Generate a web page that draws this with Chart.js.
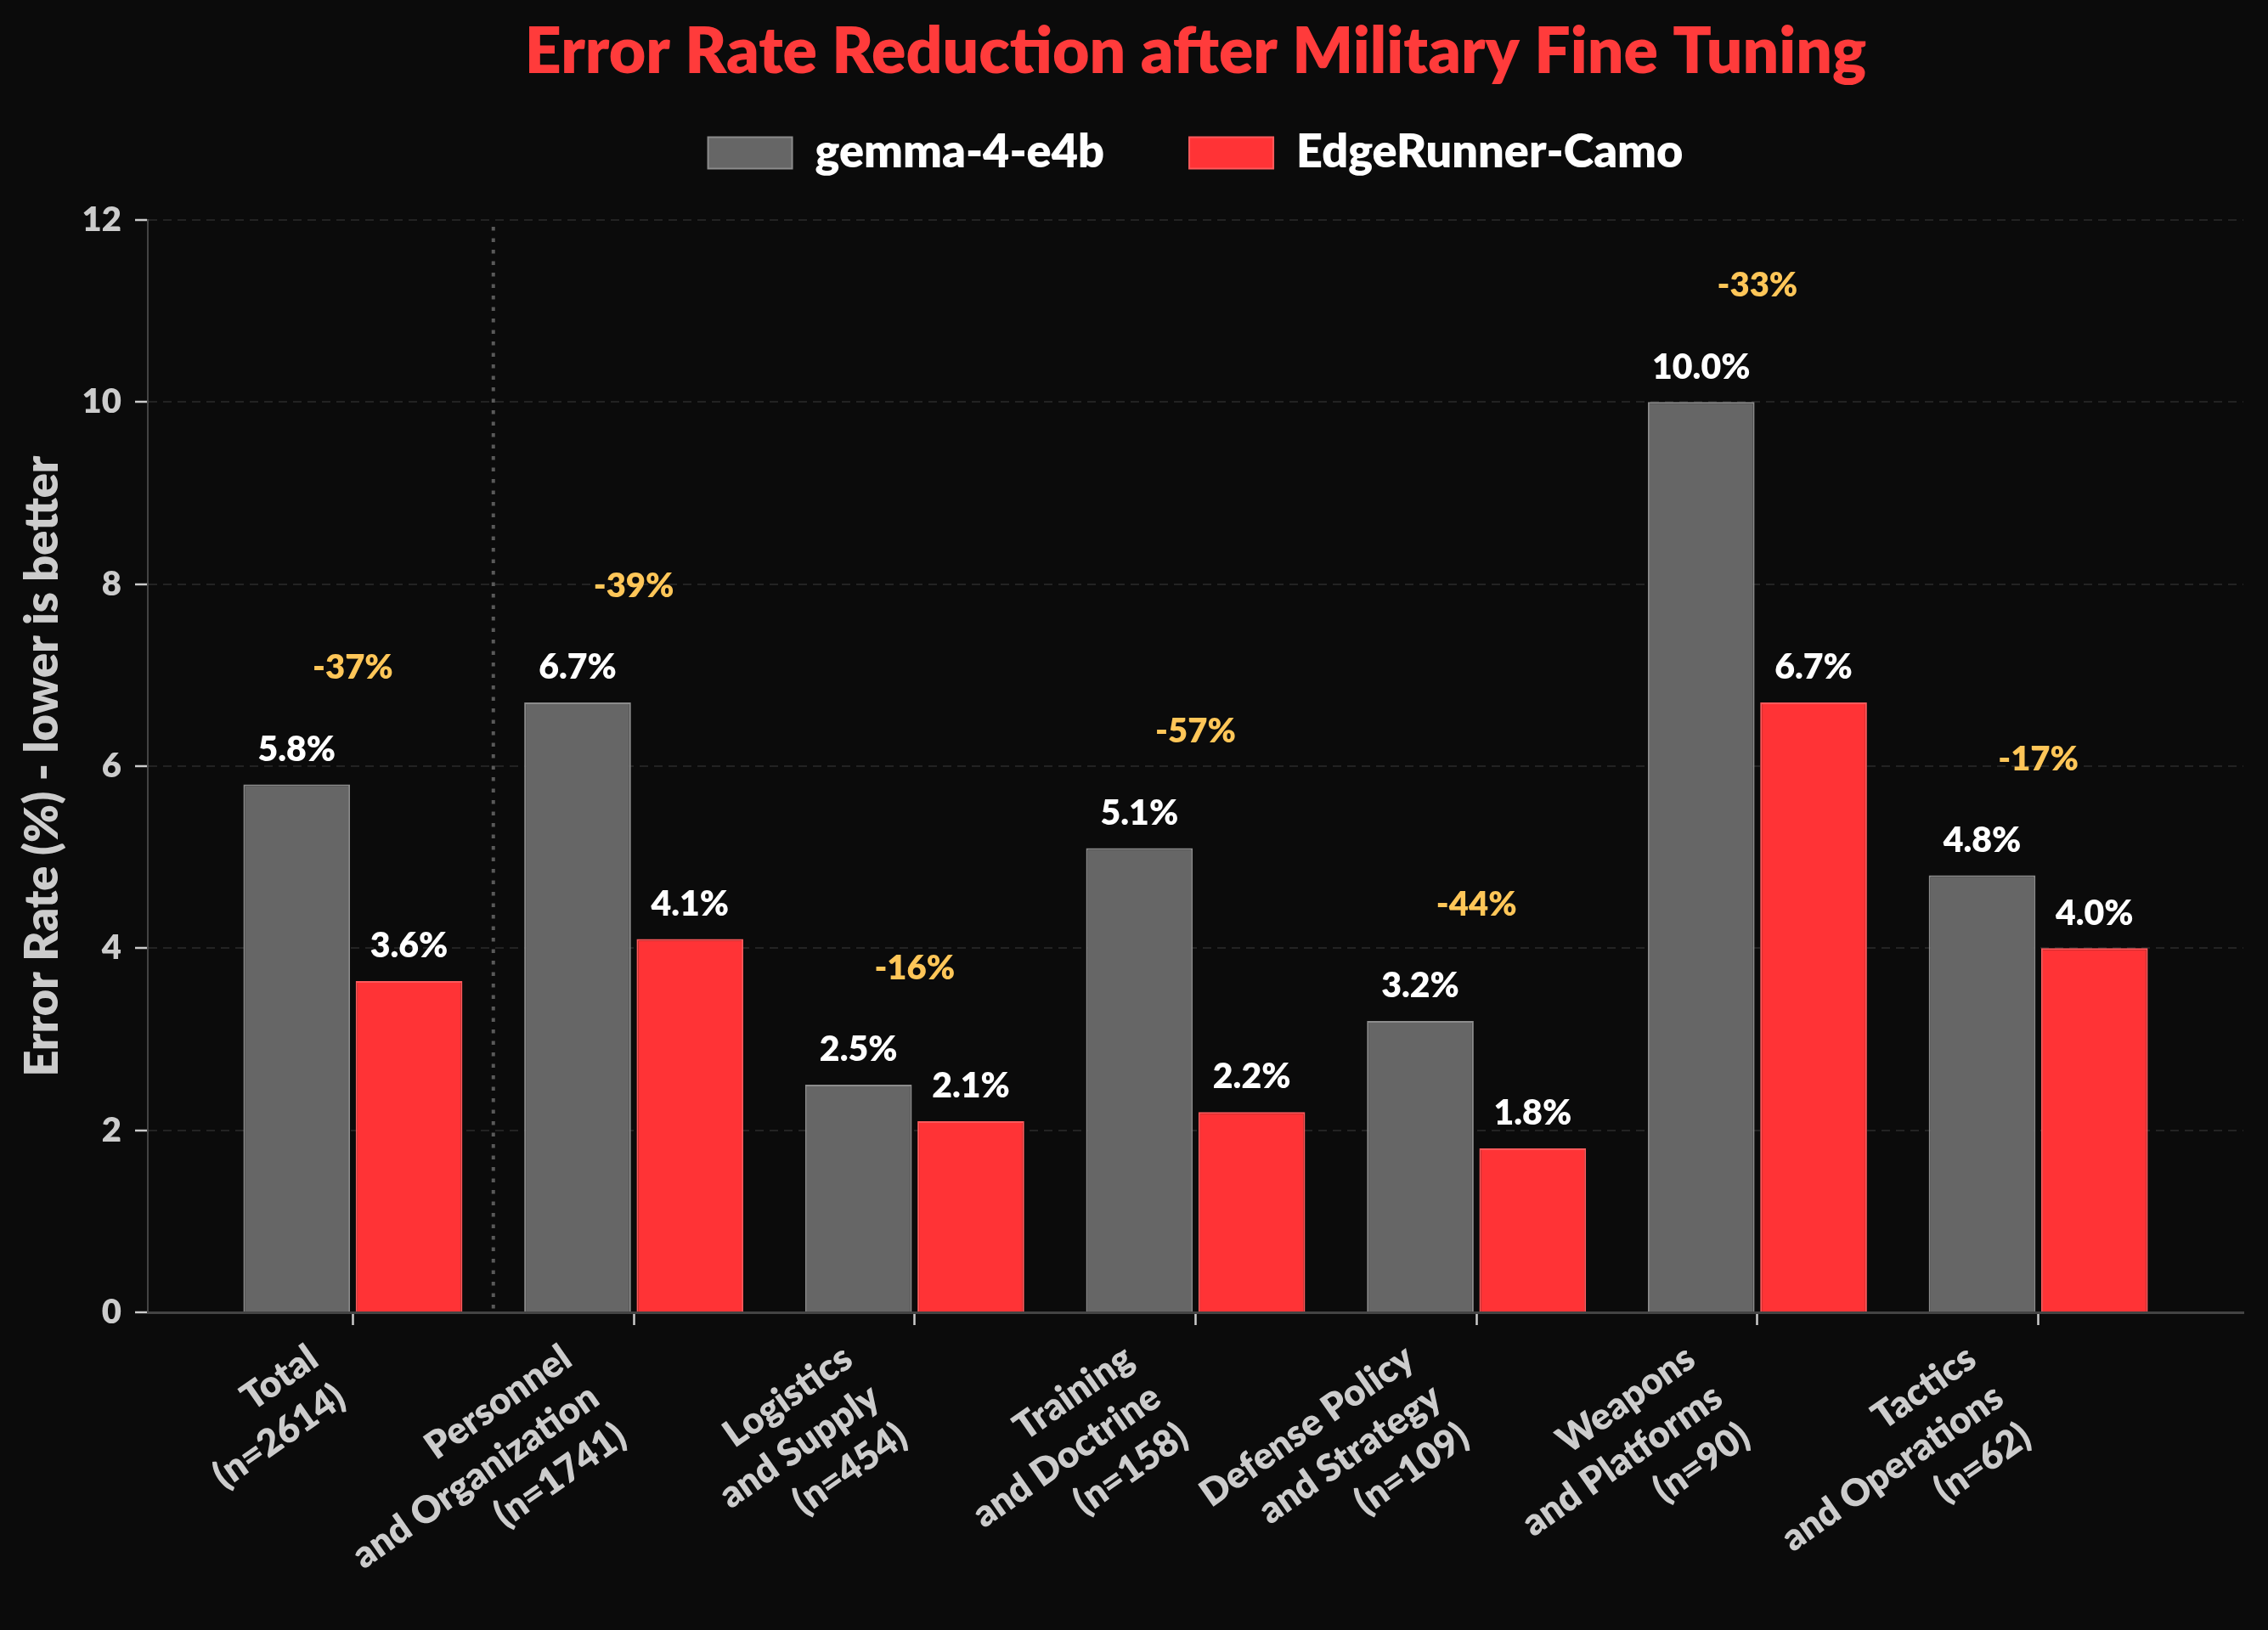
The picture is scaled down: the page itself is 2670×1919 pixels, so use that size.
<!DOCTYPE html>
<html>
<head>
<meta charset="utf-8">
<script src="https://cdn.jsdelivr.net/npm/chart.js@4.4.1/dist/chart.umd.min.js"></script>
<style>
html,body{margin:0;padding:0;background:#0b0b0b;}
#wrap{width:2670px;height:1919px;position:relative;}
</style>
</head>
<body>
<div id="wrap"><canvas id="c"></canvas></div>
<script>
// ---- data ----
const categories = [
  ["Total", "(n=2614)"],
  ["Personnel", "and Organization", "(n=1741)"],
  ["Logistics", "and Supply", "(n=454)"],
  ["Training", "and Doctrine", "(n=158)"],
  ["Defense Policy", "and Strategy", "(n=109)"],
  ["Weapons", "and Platforms", "(n=90)"],
  ["Tactics", "and Operations", "(n=62)"]
];
const seriesNames = ["gemma-4-e4b", "EdgeRunner-Camo"];
const gemmaValues = [5.8, 6.7, 2.5, 5.1, 3.2, 10.0, 4.8];
const camoValues = [3.64, 4.1, 2.1, 2.2, 1.8, 6.7, 4.0];
const reductionLabels = ["-37%", "-39%", "-16%", "-57%", "-44%", "-33%", "-17%"];
const yTickValues = [0, 2, 4, 6, 8, 10, 12];
const titleText = "Error Rate Reduction after Military Fine Tuning";
const yAxisTitle = "Error Rate (%) - lower is better";

// ---- styles ----
const FONT = 'Lato, "Open Sans", "DejaVu Sans", sans-serif';
const W = 800;
Chart.defaults.font.family = FONT;

const bgPlugin = {
  id: 'bg',
  beforeDraw(chart) {
    const {ctx, width, height} = chart;
    ctx.save();
    ctx.fillStyle = '#0b0b0b';
    ctx.fillRect(0, 0, width, height);
    ctx.restore();
  }
};

const separatorPlugin = {
  id: 'separator',
  beforeDatasetsDraw(chart) {
    const {ctx, chartArea, scales} = chart;
    const x = scales.x.getPixelForValue(0.5);
    ctx.save();
    ctx.strokeStyle = '#5a5a5a';
    ctx.lineWidth = 4;
    ctx.setLineDash([4.5, 9]);
    ctx.lineDashOffset = -8;
    ctx.beginPath();
    ctx.moveTo(x, chartArea.top);
    ctx.lineTo(x, chartArea.bottom);
    ctx.stroke();
    ctx.restore();
  }
};

const labelsPlugin = {
  id: 'valueLabels',
  afterDatasetsDraw(chart) {
    const {ctx, scales} = chart;
    ctx.save();
    ctx.textAlign = 'center';
    ctx.textBaseline = 'middle';
    ctx.font = W + ' 41px ' + FONT;
    ctx.fillStyle = '#ffffff';
    chart.data.datasets.forEach((ds, di) => {
      const meta = chart.getDatasetMeta(di);
      meta.data.forEach((bar, i) => {
        const v = ds.data[i].y;
        ctx.fillText(v.toFixed(1) + '%', bar.x, bar.y - 41);
      });
    });
    ctx.font = W + ' 40px ' + FONT;
    ctx.fillStyle = '#ffc658';
    reductionLabels.forEach((t, i) => {
      const top = Math.max(gemmaValues[i], camoValues[i]);
      ctx.fillText(t, scales.x.getPixelForValue(i), scales.y.getPixelForValue(top) - 137);
    });
    ctx.restore();
  }
};

const xLabelPlugin = {
  id: 'xLabels',
  afterDraw(chart) {
    const {ctx, scales, chartArea} = chart;
    const F = 44, LH = 56, ANG = 35 * Math.PI / 180;
    ctx.save();
    ctx.font = W + ' ' + F + 'px ' + FONT;
    ctx.fillStyle = '#cccccc';
    ctx.textAlign = 'right';
    ctx.textBaseline = 'alphabetic';
    categories.forEach((lines, i) => {
      const tx = scales.x.getPixelForValue(i);
      const n = lines.length;
      const x0 = tx - 6 - Math.sin(ANG) * LH * (n - 1);
      const y0 = chartArea.bottom + 61;
      ctx.save();
      ctx.translate(x0, y0);
      ctx.rotate(-ANG);
      lines.forEach((t, j) => ctx.fillText(t, 0, j * LH));
      ctx.restore();
    });
    ctx.restore();
  }
};

const chart = new Chart(document.getElementById('c'), {
  type: 'bar',
  data: {
    datasets: [
      {
        label: seriesNames[0],
        data: gemmaValues.map((v, i) => ({x: i, y: v})),
        backgroundColor: '#666666',
        borderColor: '#8c8c8c',
        borderWidth: 2,
        borderSkipped: 'start'
      },
      {
        label: seriesNames[1],
        data: camoValues.map((v, i) => ({x: i, y: v})),
        backgroundColor: '#ff3336',
        borderColor: '#ff5a5c',
        borderWidth: 2,
        borderSkipped: 'start'
      }
    ]
  },
  options: {
    responsive: true,
    maintainAspectRatio: false,
    devicePixelRatio: 1,
    animation: false,
    categoryPercentage: 0.8,
    barPercentage: 0.95,
    layout: {padding: {left: 0, right: 29, top: 0, bottom: 0}},
    plugins: {
      tooltip: {enabled: false},
      title: {
        display: true,
        text: titleText,
        color: '#ff3b3b',
        fullSize: false,
        font: {size: 75, weight: W, lineHeight: 1.2},
        padding: {top: 17, bottom: -54}
      },
      subtitle: {
        display: true,
        text: '',
        weight: 500,
        fullSize: false,
        font: {size: 42, lineHeight: 1},
        padding: 0
      },
      legend: {
        display: true,
        fullSize: false,
        labels: {
          color: '#ffffff',
          font: {size: 54, weight: W},
          boxWidth: 99,
          boxHeight: 37,
          padding: 100
        }
      }
    },
    scales: {
      x: {
        type: 'linear',
        offset: false,
        min: -0.73,
        max: 6.73,
        afterBuildTicks(scale) {
          scale.ticks = categories.map((_, i) => ({value: i}));
        },
        afterFit(scale) { scale.height = 374; },
        ticks: {display: false},
        grid: {
          display: true,
          offset: false,
          drawOnChartArea: false,
          drawTicks: true,
          tickLength: 15,
          tickColor: '#cccccc',
          tickWidth: 2.5
        },
        border: {display: true, color: '#444444', width: 3}
      },
      y: {
        min: 0,
        max: 12,
        afterBuildTicks(scale) {
          scale.ticks = yTickValues.map(v => ({value: v}));
        },
        afterFit(scale) { scale.width = 174; },
        ticks: {
          color: '#cccccc',
          font: {size: 40, weight: W},
          padding: 16
        },
        grid: {
          display: true,
          color: '#232323',
          lineWidth: 2,
          drawTicks: true,
          tickLength: 15,
          tickColor: '#cccccc',
          tickWidth: 2.5
        },
        border: {display: true, color: '#444444', width: 2, dash: [10, 7]},
        title: {
          display: true,
          text: yAxisTitle,
          color: '#cccccc',
          font: {size: 54, weight: W, lineHeight: 1.2},
          padding: {top: 18, bottom: 0}
        }
      }
    }
  },
  plugins: [bgPlugin, separatorPlugin, labelsPlugin, xLabelPlugin]
});
</script>
</body>
</html>
